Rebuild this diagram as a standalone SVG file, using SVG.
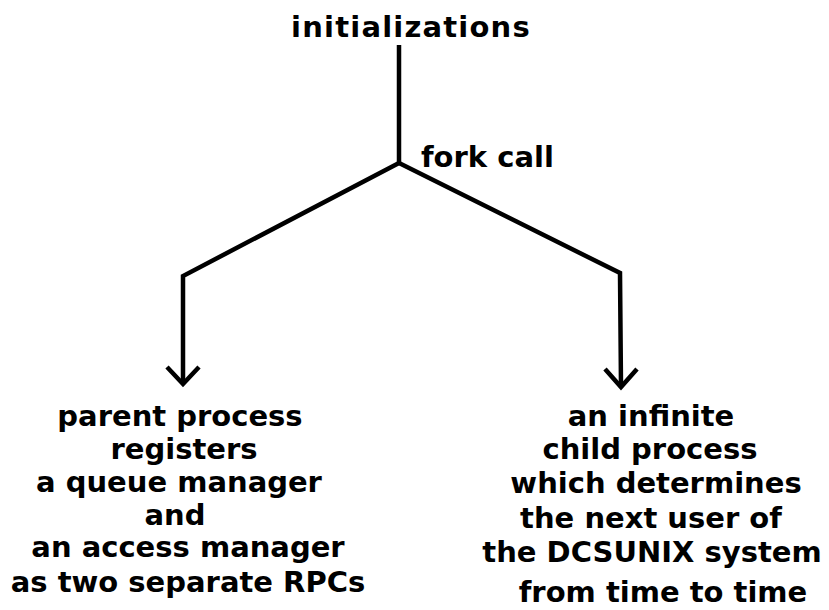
<svg xmlns="http://www.w3.org/2000/svg" width="829" height="610" viewBox="0 0 829 610">
  <style>
    text { font-family: "DejaVu Sans", "Liberation Sans", sans-serif; font-weight: bold; font-size: 29px; fill: #000; }
    .c { text-anchor: middle; }
    .wire { fill: none; stroke: #000; stroke-width: 4.5; stroke-linejoin: miter; stroke-linecap: butt; }
  </style>
  <rect width="829" height="610" fill="#fff"/>

  <!-- connectors: trunk, fork and the two branches -->
  <g id="connectors">
    <path class="wire" d="M399,45 L399,163"/>
    <path class="wire" d="M399,163 L183,276 L183,383"/>
    <path class="wire" d="M399,163 L620,273 L621,386"/>
    <path class="wire" d="M167,367 L183,384 L199,367"/>
    <path class="wire" d="M605,369 L621,387 L637,369"/>
    <text id="fork-label" x="421" y="167">fork call</text>
  </g>

  <g id="init">
    <text class="c" x="411" y="37" font-size="30" letter-spacing="1.2">initializations</text>
  </g>

  <g id="parent">
    <text class="c" x="180" y="426">parent process</text>
    <text class="c" x="184" y="459">registers</text>
    <text class="c" x="179" y="492">a queue manager</text>
    <text class="c" x="175" y="525">and</text>
    <text class="c" x="188" y="557">an access manager</text>
    <text class="c" x="188" y="592">as two separate RPCs</text>
  </g>

  <g id="child">
    <text class="c" x="651" y="426">an infinite</text>
    <text class="c" x="650" y="459">child process</text>
    <text class="c" x="656" y="493">which determines</text>
    <text class="c" x="651" y="528">the next user of</text>
    <text class="c" x="652" y="562">the DCSUNIX system</text>
    <text class="c" x="663" y="602">from time to time</text>
  </g>
</svg>
